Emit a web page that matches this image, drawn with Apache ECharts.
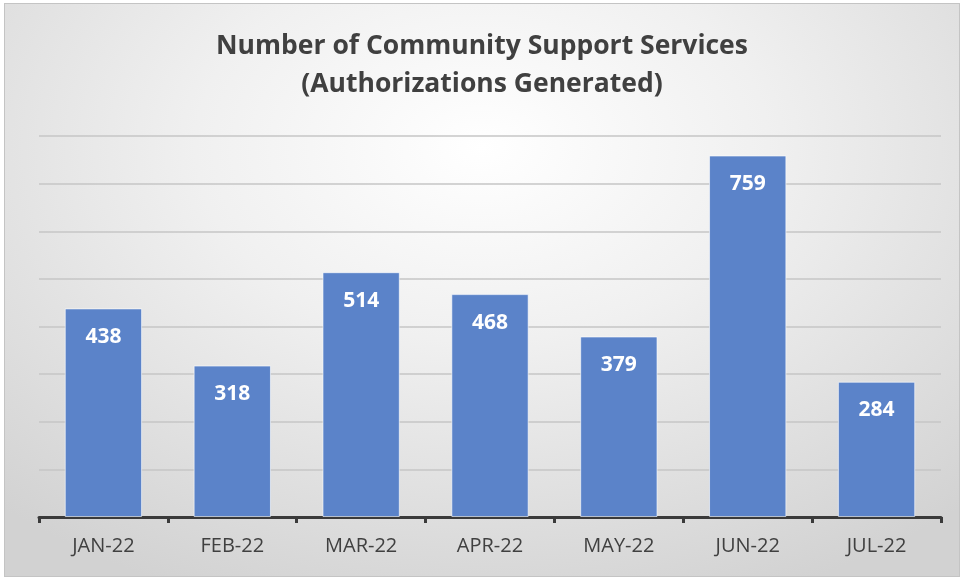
<!DOCTYPE html>
<html><head><meta charset="utf-8">
<script src="https://cdn.jsdelivr.net/npm/echarts@6/dist/echarts.min.js"></script>
<style>
html,body{margin:0;padding:0;background:#fff;}
#c{position:absolute;left:4px;top:3px;width:956px;height:574px;box-sizing:border-box;border:1px solid #c4c4c4;
background:radial-gradient(ellipse 75% 85% at 50% 25%, #ffffff 0%, #f0f0f0 40%, #d2d2d2 100%);}
</style></head>
<body><div id="c"></div>
<script>
const categories = ['JAN-22','FEB-22','MAR-22','APR-22','MAY-22','JUN-22','JUL-22'];
const values = [438, 318, 514, 468, 379, 759, 284];
const titleLines = ['Number of Community Support Services', '(Authorizations Generated)'];

const chart = echarts.init(document.getElementById('c'), null, {renderer:'canvas'});
chart.setOption({
  backgroundColor: 'transparent',
  animation: false,
  title: {
    text: titleLines.join('\n'),
    left: 'center', top: 18,
    textStyle: {fontFamily: 'Open Sans', fontWeight: 'bold', fontSize: 26.5, color: '#404040', lineHeight: 38}
  },
  grid: {left: 34, right: 18, top: 132, bottom: 59, containLabel: false},
  xAxis: {
    type: 'category', data: categories, boundaryGap: true,
    axisLine: {lineStyle: {color: '#3a3a3a', width: 3}},
    axisTick: {show: true, alignWithLabel: false, length: 6, lineStyle: {color: '#3a3a3a', width: 3}},
    axisLabel: {color: '#404040', fontSize: 20, fontFamily: 'Open Sans', margin: 19}
  },
  yAxis: {
    type: 'value', min: 0, max: 800, interval: 100,
    axisLabel: {show: false}, axisLine: {show: false}, axisTick: {show: false},
    splitLine: {lineStyle: {color: '#c6c6c6', width: 1.5}}
  },
  series: [{
    type: 'bar', data: values, barWidth: '60%',
    itemStyle: {color: '#5b83c9', borderColor: 'rgba(255,255,255,0.6)', borderWidth: 1},
    label: {show: true, position: 'insideTop', distance: 18, color: '#ffffff', fontWeight: 'bold', fontSize: 21, fontFamily: 'Open Sans'}
  }]
});
</script></body></html>
